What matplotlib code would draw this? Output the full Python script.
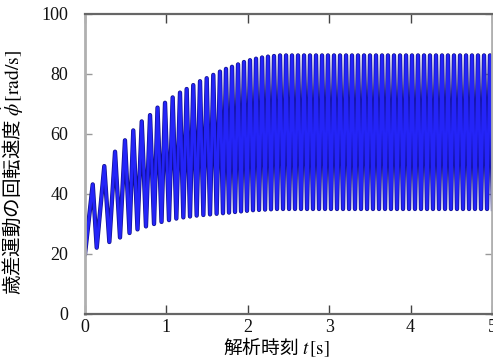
import matplotlib
matplotlib.use("Agg")
import matplotlib.pyplot as plt

plt.rcParams['mathtext.fontset'] = 'stix'

# start of the simulation
start_t = 0.0
start_v = 20.0

# peaks of the oscillation (time [s], speed [rad/s])
peak_t = [0.095, 0.237, 0.369, 0.491, 0.593, 0.697, 0.799, 0.891, 0.983, 1.077,
          1.167, 1.249, 1.330, 1.413, 1.495, 1.576, 1.658, 1.732, 1.806, 1.880,
          1.953, 2.027, 2.101, 2.175, 2.248, 2.322, 2.396, 2.470, 2.543, 2.617,
          2.691, 2.764, 2.838, 2.912, 2.985, 3.059, 3.133, 3.207, 3.280, 3.354,
          3.428, 3.501, 3.575, 3.649, 3.722, 3.796, 3.870, 3.944, 4.017, 4.091,
          4.165, 4.238, 4.312, 4.386, 4.459, 4.533, 4.607, 4.681, 4.754, 4.828,
          4.902, 4.975]
peak_v = [43.2, 49.3, 54.1, 57.9, 61.2, 64.2, 66.3, 68.8, 70.4, 72.2,
          73.8, 75.0, 76.3, 77.6, 78.6, 79.7, 80.8, 81.7, 82.4, 83.2,
          84.0, 84.6, 85.1, 85.5, 85.8, 86.0] + [86.2] * 36

# troughs following each peak
trough_t = [0.144, 0.299, 0.430, 0.547, 0.645, 0.749, 0.848, 0.940, 1.032, 1.122,
            1.208, 1.290, 1.372, 1.454, 1.536, 1.617, 1.695, 1.769, 1.843, 1.917,
            1.990, 2.064, 2.138, 2.212, 2.285, 2.359, 2.433, 2.507, 2.580, 2.654,
            2.728, 2.801, 2.875, 2.949, 3.022, 3.096, 3.170, 3.244, 3.317, 3.391,
            3.465, 3.538, 3.612, 3.686, 3.759, 3.833, 3.907, 3.981, 4.054, 4.128,
            4.202, 4.275, 4.349, 4.423, 4.496, 4.570, 4.644, 4.718, 4.791, 4.865,
            4.939, 5.012]
trough_v = [22.1, 24.0, 25.5, 27.0, 28.2, 29.2, 30.0, 30.7, 31.3, 31.8,
            32.2, 32.5, 32.8, 33.0, 33.2, 33.4, 33.6, 33.8, 34.0, 34.2,
            34.4, 34.6, 34.7, 34.8, 34.9] + [35.0] * 37

x_ticks = [0, 1, 2, 3, 4, 5]
y_ticks = [0, 20, 40, 60, 80, 100]


def main() -> None:
    t = [start_t]
    v = [start_v]
    for pt, pv, tt, tv in zip(peak_t, peak_v, trough_t, trough_v):
        t += [pt, tt]
        v += [pv, tv]

    fig = plt.figure(figsize=(4.93, 3.58), dpi=100)
    ax = fig.add_axes([85 / 493, 1 - 314 / 358, 407 / 493, 300 / 358])

    # darker outline under the blue stroke, like the reference rendering
    ax.plot(t, v, color='#10108a', lw=3.1, solid_joinstyle='round')
    ax.plot(t, v, color='#2424f8', lw=2.1, solid_joinstyle='round')

    ax.set_xlim(0, 5)
    ax.set_ylim(0, 100)
    ax.set_xticks(x_ticks)
    ax.set_yticks(y_ticks)

    tick_font = dict(family='Liberation Serif', size=13)
    ax.set_xticklabels([str(x) for x in x_ticks], fontdict=tick_font)
    ax.set_yticklabels([str(y) for y in y_ticks], fontdict=tick_font)

    ax.tick_params(axis='x', direction='in', length=6.5, width=1.0, color='#444444',
                   top=True, pad=3.5, labelcolor='#111111')
    ax.tick_params(axis='y', direction='in', length=5, width=1.0, color='#999999',
                   right=True, pad=12, labelcolor='#111111')

    for side in ['top', 'bottom']:
        ax.spines[side].set_color('#666666')
        ax.spines[side].set_linewidth(1.6)
    for side in ['left', 'right']:
        ax.spines[side].set_color('#b0b0b0')
        ax.spines[side].set_linewidth(2.0)

    label_font = dict(family=['Noto Sans CJK JP'], size=13.5)
    ax.set_xlabel('解析時刻 $t\\,[\\mathrm{s}]$', fontdict=label_font)
    ax.set_ylabel('歳差運動の回転速度 $\\dot{\\phi}\\,[\\mathrm{rad/s}]$',
                  fontdict=dict(family=['Noto Sans CJK JP'], size=14))
    ax.xaxis.set_label_coords(0.469, -0.073)
    ax.yaxis.set_label_coords(-0.145, 0.473)

    fig.savefig('out.png', dpi=100)
    plt.close(fig)


if __name__ == "__main__":
    main()
